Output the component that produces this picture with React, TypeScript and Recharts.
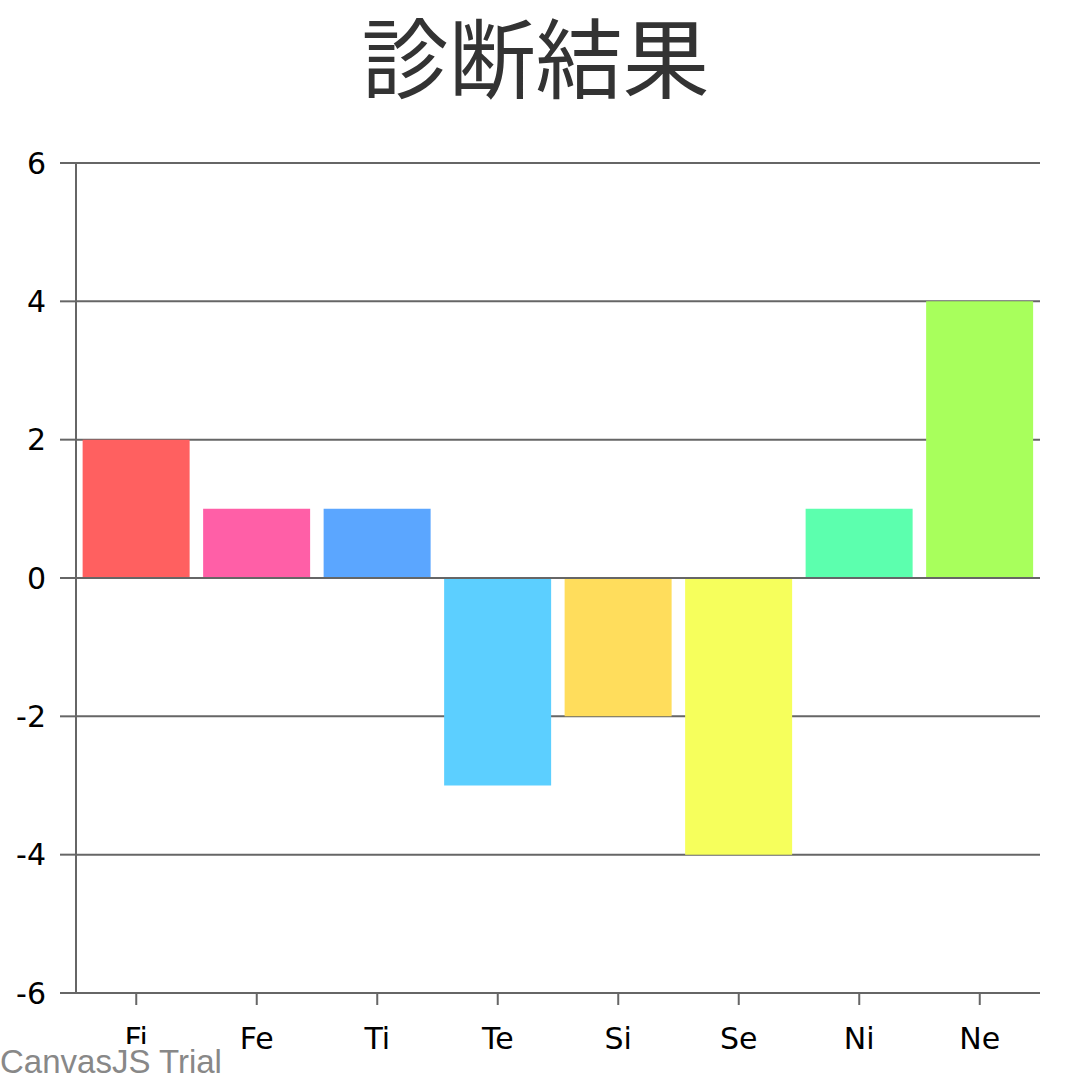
import { BarChart, Bar, XAxis, YAxis, CartesianGrid, ReferenceLine, Cell } from 'recharts'

const categories = ['Fi', 'Fe', 'Ti', 'Te', 'Si', 'Se', 'Ni', 'Ne']
const values = [2, 1, 1, -3, -2, -4, 1, 4]
const colors = ['#FF6060', '#FF5FA7', '#5BA6FF', '#5CCFFF', '#FFDD5C', '#F6FF5C', '#5CFFAE', '#A8FF5C']
const yTicks = [-6, -4, -2, 0, 2, 4, 6]

const axisColor = '#666666'
const tickFont = { fontSize: 30, fill: '#000', fontFamily: '"DejaVu Sans", sans-serif' }

export default function App() {
  const data = categories.map((name, i) => ({ name, value: values[i] }))

  return (
    <div style={{ position: 'absolute', left: 0, top: 0, width: 1071, height: 1080, background: '#fff', overflow: 'hidden' }}>
      <div
        style={{
          position: 'absolute',
          top: 0,
          left: 0,
          width: 1071,
          textAlign: 'center',
          fontFamily: '"Noto Sans CJK JP", sans-serif',
          fontSize: 87,
          lineHeight: '108px',
          color: '#333',
        }}
      >
        診断結果
      </div>
      <BarChart
        width={1071}
        height={1080}
        data={data}
        margin={{ top: 163, right: 31, bottom: 0, left: 0 }}
        barCategoryGap="5.5%"
      >
        <CartesianGrid vertical={false} stroke={axisColor} strokeWidth={2} strokeOpacity={1} />
        <XAxis
          dataKey="name"
          height={87}
          axisLine={{ stroke: axisColor, strokeWidth: 2 }}
          tickLine={{ stroke: axisColor, strokeWidth: 2 }}
          tickSize={12}
          tickMargin={23}
          tick={tickFont}
          interval={0}
        />
        <YAxis
          width={76}
          domain={[-6, 6]}
          ticks={yTicks}
          interval={0}
          axisLine={{ stroke: axisColor, strokeWidth: 2 }}
          tickLine={{ stroke: axisColor, strokeWidth: 2 }}
          tickSize={16}
          tickMargin={14}
          tick={tickFont}
        />
        <Bar dataKey="value" isAnimationActive={false}>
          {data.map((d, i) => (
            <Cell key={d.name} fill={colors[i]} />
          ))}
        </Bar>
        <ReferenceLine y={0} stroke={axisColor} strokeWidth={2} />
      </BarChart>
      <div
        style={{
          position: 'absolute',
          left: 0,
          top: 1044,
          paddingRight: 2,
          background: '#fff',
          fontFamily: '"Liberation Sans", Arial, sans-serif',
          fontSize: 33,
          lineHeight: '36px',
          color: '#888',
        }}
      >
        CanvasJS Trial
      </div>
    </div>
  )
}
